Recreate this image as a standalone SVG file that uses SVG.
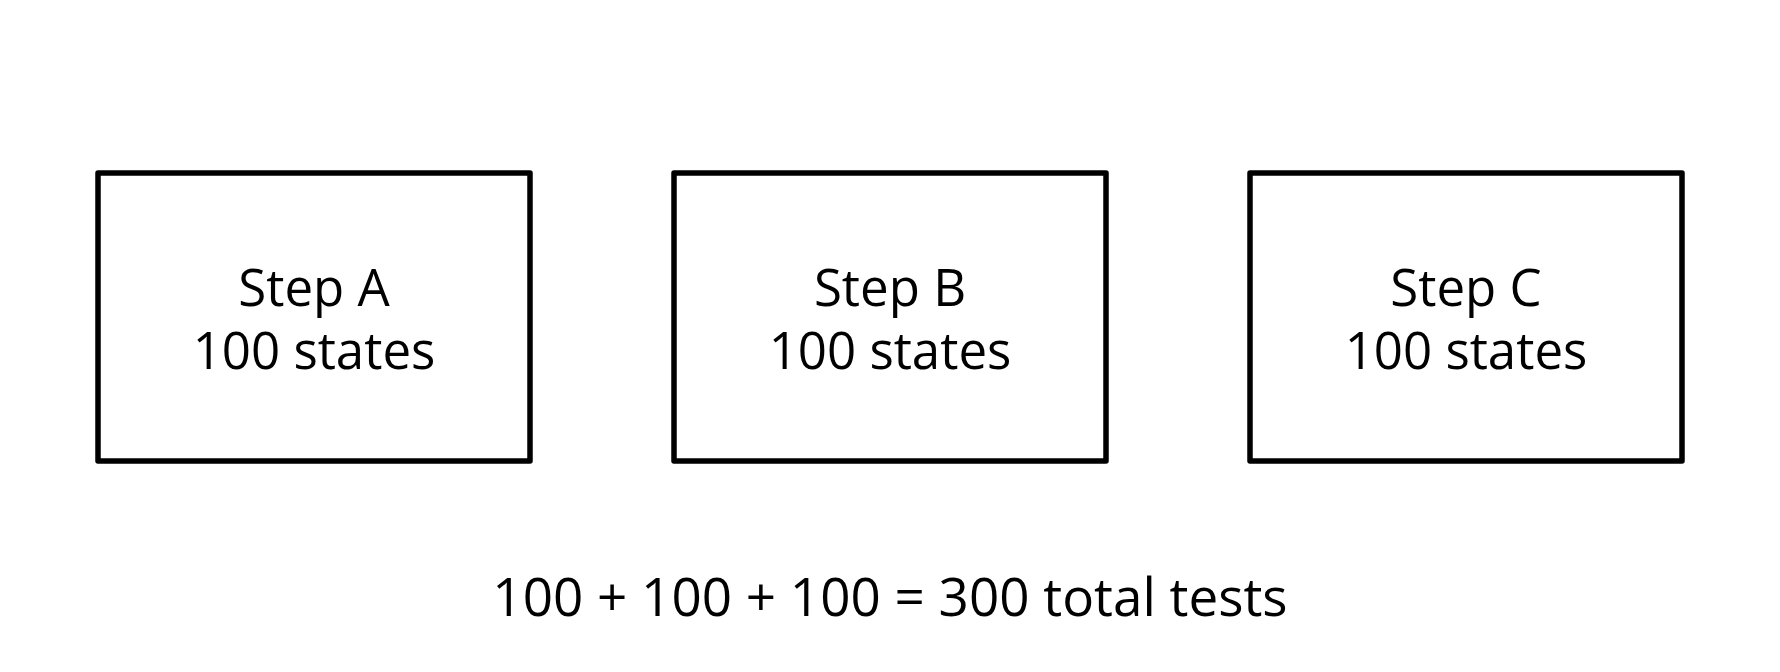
<svg xmlns="http://www.w3.org/2000/svg" width="1780" height="672" viewBox="0 0 1780 672">
<style>
.box{fill:#fff;stroke:#000;stroke-width:5.5;stroke-linejoin:round}
.t{font-family:"Open Sans","Noto Sans",sans-serif;font-size:51px;fill:#000;text-anchor:middle}
.sum{font-size:53px}
</style>
<rect width="1780" height="672" fill="#fff"/>
<g id="connectors"></g>
<g id="stepA">
<rect class="box" x="98" y="173" width="432" height="288"/>
<text class="t" x="314" y="306">Step A</text>
<text class="t" x="314" y="369">100 states</text>
</g>
<g id="stepB">
<rect class="box" x="674" y="173" width="432" height="288"/>
<text class="t" x="890" y="306">Step B</text>
<text class="t" x="890" y="369">100 states</text>
</g>
<g id="stepC">
<rect class="box" x="1250" y="173" width="432" height="288"/>
<text class="t" x="1466" y="306">Step C</text>
<text class="t" x="1466" y="369">100 states</text>
</g>
<g id="total">
<text class="t sum" x="890" y="616">100 + 100 + 100 = 300 total tests</text>
</g>
</svg>
